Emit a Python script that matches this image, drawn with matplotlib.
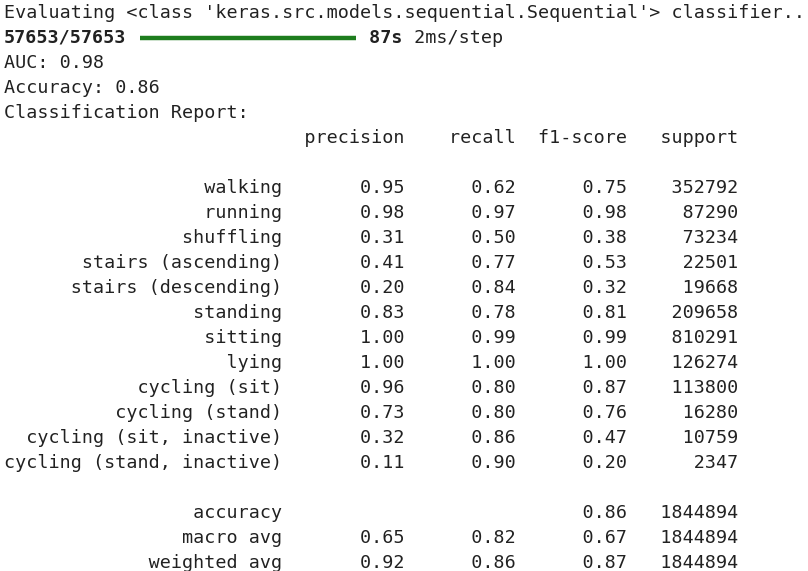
import matplotlib
matplotlib.use("Agg")
import matplotlib.pyplot as plt

classes = ["walking", "running", "shuffling", "stairs (ascending)", "stairs (descending)",
           "standing", "sitting", "lying", "cycling (sit)", "cycling (stand)",
           "cycling (sit, inactive)", "cycling (stand, inactive)"]
precision = [0.95, 0.98, 0.31, 0.41, 0.20, 0.83, 1.00, 1.00, 0.96, 0.73, 0.32, 0.11]
recall = [0.62, 0.97, 0.50, 0.77, 0.84, 0.78, 0.99, 1.00, 0.80, 0.80, 0.86, 0.90]
f1 = [0.75, 0.98, 0.38, 0.53, 0.32, 0.81, 0.99, 1.00, 0.87, 0.76, 0.47, 0.20]
support = [352792, 87290, 73234, 22501, 19668, 209658, 810291, 126274, 113800, 16280, 10759, 2347]
accuracy = 0.86
total = 1844894
macro = [0.65, 0.82, 0.67]
weighted = [0.92, 0.86, 0.87]
auc = 0.98

W = 25
lines = [
    "Evaluating <class 'keras.src.models.sequential.Sequential'> classifier...",
    None,
    f"AUC: {auc:.2f}",
    f"Accuracy: {accuracy:.2f}",
    "Classification Report:",
    f"{'':>{W}s} " + "".join(f" {h:>9}" for h in ["precision", "recall", "f1-score", "support"]),
    "",
]
for c, p, r, f, s in zip(classes, precision, recall, f1, support):
    lines.append(f"{c:>{W}s} " + f" {p:>9.2f} {r:>9.2f} {f:>9.2f} {s:>9}")
lines.append("")
lines.append(f"{'accuracy':>{W}s} " + f" {'':>9} {'':>9} {accuracy:>9.2f} {total:>9}")
lines.append(f"{'macro avg':>{W}s} " + f" {macro[0]:>9.2f} {macro[1]:>9.2f} {macro[2]:>9.2f} {total:>9}")
lines.append(f"{'weighted avg':>{W}s} " + f" {weighted[0]:>9.2f} {weighted[1]:>9.2f} {weighted[2]:>9.2f} {total:>9}")

fig = plt.figure(figsize=(8.08, 5.71), dpi=100)
fig.patch.set_facecolor("white")
ax = fig.add_axes([0, 0, 1, 1])
ax.set_xlim(0, 808)
ax.set_ylim(571, 0)
ax.axis("off")

fs = 13.27
cw = 11.07
x0 = 4
col = "#212121"
font = dict(family="DejaVu Sans Mono", fontsize=fs, color=col, va="center", ha="left")
for i, t in enumerate(lines):
    y = 13 + 25 * i
    if t is None:
        ax.text(x0, y, "57653/57653", fontweight="bold", **font)
        ax.plot([x0 + 12 * cw + 3, x0 + 32 * cw - 2], [y, y], color="#1e7d1e", lw=3.2, solid_capstyle="butt")
        ax.text(x0 + 32 * cw, y, " 87s", fontweight="bold", **font)
        ax.text(x0 + 36 * cw, y, " 2ms/step", **font)
    elif t:
        ax.text(x0, y, t, **font)

fig.savefig("out.png", dpi=100, facecolor="white")
